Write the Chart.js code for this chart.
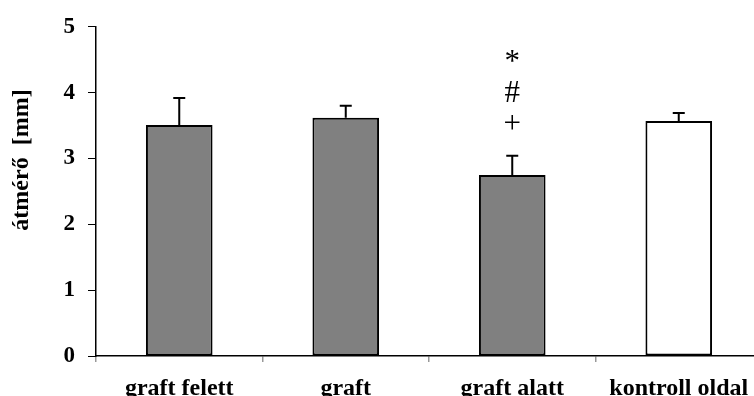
<!DOCTYPE html>
<html>
<head>
<meta charset="utf-8">
<script src="https://cdn.jsdelivr.net/npm/chart.js@4/dist/chart.umd.min.js"></script>
<style>
  html, body { margin: 0; padding: 0; background: #fff; overflow: hidden; }
  #wrap { width: 764px; height: 396px; position: relative; }
</style>
</head>
<body>
<div id="wrap"><canvas id="diameterChart"></canvas></div>
<script>
// Data
const categories = ['graft felett', 'graft', 'graft alatt', 'kontroll oldal'];
const means = [3.51, 3.62, 2.75, 3.57];
const errors = [0.41, 0.18, 0.29, 0.12];
const fillColors = ['#808080', '#808080', '#808080', '#ffffff'];
const yTicks = [0, 1, 2, 3, 4, 5];
const marks = ['+', '#', '*'];   // significance marks over 'graft alatt'
const markedIndex = 2;
const yTitle = 'átmérő  [mm]';

const SERIF = '"Liberation Serif", "Times New Roman", serif';

// one-sided (upward) error bars
const errorBars = {
    id: 'errorBars',
    afterDatasetsDraw(chart) {
        const ctx = chart.ctx;
        const y = chart.scales.y;
        const bars = chart.getDatasetMeta(0).data;
        ctx.save();
        ctx.strokeStyle = '#000';
        ctx.lineWidth = 2;
        bars.forEach((bar, i) => {
            const top = y.getPixelForValue(means[i] + errors[i]);
            ctx.beginPath();
            ctx.moveTo(bar.x, bar.y);
            ctx.lineTo(bar.x, top);
            ctx.moveTo(bar.x - 6, top);
            ctx.lineTo(bar.x + 6, top);
            ctx.stroke();
        });
        ctx.restore();
    }
};

// stacked significance marks and rotated axis title
const extras = {
    id: 'extras',
    afterDraw(chart) {
        const ctx = chart.ctx;
        const y = chart.scales.y;
        const bar = chart.getDatasetMeta(0).data[markedIndex];
        const top = y.getPixelForValue(means[markedIndex] + errors[markedIndex]);
        ctx.save();
        ctx.fillStyle = '#000';
        ctx.textAlign = 'center';
        ctx.textBaseline = 'middle';
        ctx.font = '31px ' + SERIF;
        marks.forEach((m, k) => {
            ctx.fillText(m, bar.x, top - 31 - k * 31);
        });

        ctx.font = 'bold 24px ' + SERIF;
        ctx.translate(22, 160);
        ctx.rotate(-Math.PI / 2);
        ctx.fillText(yTitle, 0, 0);
        ctx.restore();
    }
};

new Chart(document.getElementById('diameterChart'), {
    type: 'bar',
    data: {
        labels: categories,
        datasets: [{
            data: means,
            backgroundColor: fillColors,
            borderColor: '#000',
            borderWidth: 2,
            borderSkipped: false,
            barPercentage: 0.4,
            categoryPercentage: 1.0
        }]
    },
    options: {
        responsive: true,
        maintainAspectRatio: false,
        animation: false,
        layout: { padding: { top: 24, right: 2, left: 0, bottom: 0 } },
        plugins: {
            legend: { display: false },
            tooltip: { enabled: false }
        },
        scales: {
            x: {
                offset: true,
                afterFit: (s) => { s.height = 40; },
                grid: {
                    offset: true,
                    drawOnChartArea: false,
                    drawTicks: true,
                    tickLength: 6,
                    color: '#999',
                    lineWidth: 1.5
                },
                border: { color: '#000', width: 1.5 },
                ticks: {
                    color: '#000',
                    padding: 12,
                    maxRotation: 0,
                    autoSkip: false,
                    font: { family: SERIF, size: 24, weight: 'bold' }
                }
            },
            y: {
                min: 0,
                max: 5,
                afterFit: (s) => { s.width = 96; },
                afterBuildTicks: (s) => { s.ticks = yTicks.map(v => ({ value: v })); },
                grid: {
                    drawOnChartArea: false,
                    drawTicks: true,
                    tickLength: 8,
                    color: '#000',
                    lineWidth: 1
                },
                border: { color: '#000', width: 1.5 },
                ticks: {
                    color: '#000',
                    padding: 13,
                    font: { family: SERIF, size: 23, weight: 'bold' }
                }
            }
        }
    },
    plugins: [errorBars, extras]
});
</script>
</body>
</html>
